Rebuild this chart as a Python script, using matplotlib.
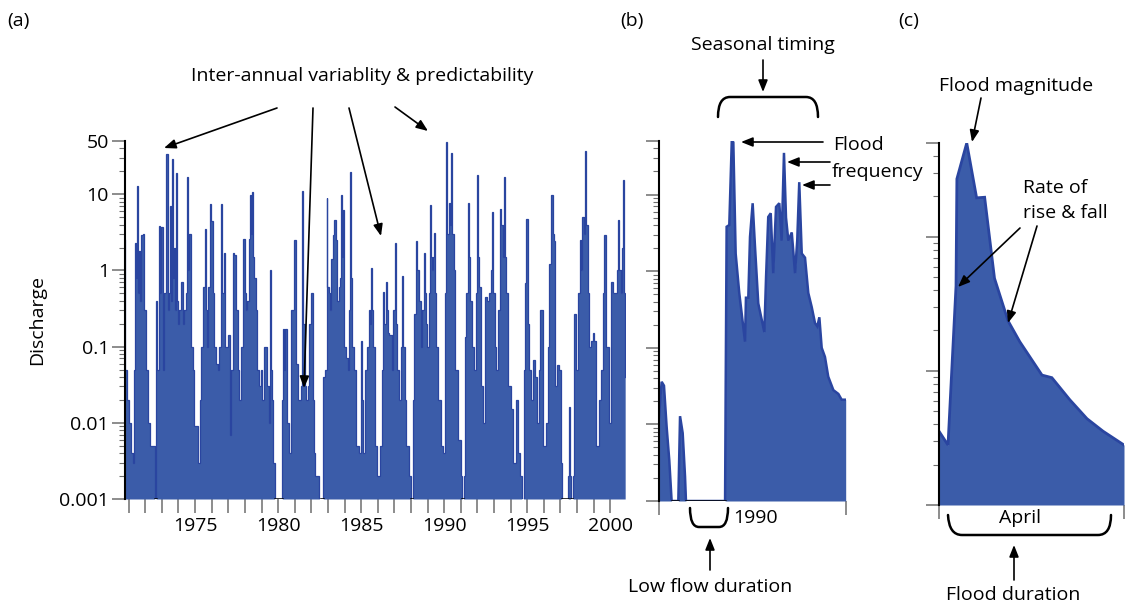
import matplotlib

matplotlib.use("Agg")
import matplotlib.pyplot as plt
import numpy as np
from matplotlib.path import Path
from matplotlib.patches import PathPatch
from matplotlib.ticker import FixedLocator, LogLocator, NullFormatter, FixedFormatter, FuncFormatter

plt.rcParams["font.family"] = ["Open Sans", "DejaVu Sans"]

FILL = "#3b5ca9"
EDGE = "#2a45a0"
TICK = "#6e6e6e"

# (a) long-term daily discharge record (decimal year, discharge; 0 = no flow)
years_a = [
    1970.78, 1970.84, 1970.95, 1971.08, 1971.20, 1971.29, 1971.35, 1971.39, 1971.46, 1971.53,
    1971.58, 1971.65, 1971.72, 1971.79, 1971.89, 1971.99, 1972.09, 1972.19, 1972.39, 1972.55,
    1972.58, 1972.62, 1972.69, 1972.77, 1972.85, 1972.92, 1972.99, 1973.09, 1973.19, 1973.33,
    1973.40, 1973.45, 1973.53, 1973.58, 1973.63, 1973.68, 1973.73, 1973.80, 1973.86, 1973.93,
    1974.00, 1974.10, 1974.20, 1974.30, 1974.40, 1974.48, 1974.54, 1974.60, 1974.66, 1974.80,
    1974.90, 1975.00, 1975.16, 1975.24, 1975.30, 1975.45, 1975.55, 1975.60, 1975.67, 1975.74,
    1975.84, 1975.90, 1976.00, 1976.10, 1976.20, 1976.31, 1976.41, 1976.51, 1976.61, 1976.68,
    1976.75, 1976.91, 1977.05, 1977.15, 1977.22, 1977.31, 1977.41, 1977.51, 1977.61, 1977.71,
    1977.85, 1977.97, 1978.04, 1978.11, 1978.20, 1978.27, 1978.37, 1978.42, 1978.47, 1978.54,
    1978.61, 1978.71, 1978.80, 1978.88, 1979.02, 1979.10, 1979.22, 1979.32, 1979.40, 1979.48,
    1979.56, 1979.62, 1979.68, 1979.76, 1979.82, 1980.22, 1980.28, 1980.32, 1980.40, 1980.48,
    1980.56, 1980.72, 1980.78, 1980.82, 1980.92, 1981.02, 1981.08, 1981.12, 1981.22, 1981.33,
    1981.43, 1981.49, 1981.56, 1981.63, 1981.73, 1981.83, 1981.93, 1982.07, 1982.12, 1982.17,
    1982.33, 1982.45, 1982.53, 1982.56, 1982.70, 1982.73, 1982.90, 1982.93, 1983.00, 1983.09,
    1983.16, 1983.23, 1983.33, 1983.43, 1983.53, 1983.62, 1983.69, 1983.78, 1983.84, 1983.89,
    1983.94, 1984.04, 1984.14, 1984.24, 1984.32, 1984.38, 1984.44, 1984.50, 1984.64, 1984.78,
    1984.94, 1985.00, 1985.04, 1985.10, 1985.18, 1985.34, 1985.42, 1985.48, 1985.56, 1985.64,
    1985.70, 1985.74, 1985.90, 1986.04, 1986.18, 1986.28, 1986.35, 1986.43, 1986.51, 1986.58,
    1986.65, 1986.75, 1986.91, 1986.98, 1987.05, 1987.12, 1987.19, 1987.35, 1987.45, 1987.51,
    1987.58, 1987.65, 1987.79, 1987.95, 1988.02, 1988.08, 1988.15, 1988.25, 1988.35, 1988.43,
    1988.51, 1988.65, 1988.72, 1988.80, 1988.86, 1988.92, 1989.02, 1989.10, 1989.16, 1989.23,
    1989.30, 1989.36, 1989.42, 1989.50, 1989.56, 1989.72, 1989.86, 1990.00, 1990.10, 1990.16,
    1990.23, 1990.30, 1990.38, 1990.46, 1990.53, 1990.60, 1990.76, 1990.92, 1991.06, 1991.10,
    1991.14, 1991.20, 1991.27, 1991.38, 1991.47, 1991.52, 1991.57, 1991.73, 1991.85, 1991.93,
    1991.97, 1992.05, 1992.13, 1992.27, 1992.41, 1992.53, 1992.67, 1992.77, 1992.86, 1992.93,
    1993.00, 1993.07, 1993.21, 1993.30, 1993.37, 1993.51, 1993.57, 1993.63, 1993.70, 1993.78,
    1993.94, 1994.08, 1994.22, 1994.38, 1994.48, 1994.62, 1994.74, 1994.82, 1994.88, 1994.98,
    1995.06, 1995.14, 1995.28, 1995.42, 1995.54, 1995.68, 1995.76, 1995.82, 1995.92, 1996.04,
    1996.18, 1996.28, 1996.35, 1996.49, 1996.56, 1996.63, 1996.75, 1996.85, 1996.99, 1997.06,
    1997.09, 1997.45, 1997.49, 1997.55, 1997.60, 1997.63, 1997.72, 1997.80, 1997.89, 1997.96,
    1998.03, 1998.12, 1998.19, 1998.28, 1998.35, 1998.45, 1998.49, 1998.56, 1998.63, 1998.70,
    1998.75, 1998.90, 1999.00, 1999.10, 1999.24, 1999.40, 1999.50, 1999.60, 1999.70, 1999.75,
    1999.80, 2000.00, 2000.05, 2000.10, 2000.20, 2000.34, 2000.42, 2000.50, 2000.60, 2000.70,
    2000.75, 2000.80, 2000.86, 2000.90,
]
discharge_a = [
    2.5, 0.05, 0.02, 0.01, 0.004, 0.003, 0.05, 2.3, 0.8, 13,
    0.5, 1.8, 0.4, 2.9, 3.0, 0.3, 0.05, 0.01, 0.005, 0.005,
    0, 0, 0.4, 0.05, 3.8, 0.5, 3.7, 0.05, 0.5, 34,
    0.3, 0.5, 7, 0.4, 29, 0.8, 2, 0.3, 19, 0.4,
    0.2, 0.3, 0.7, 0.2, 0.3, 0.5, 17, 1, 3, 0.1,
    0.05, 0.009, 0.009, 0.003, 0.02, 0.1, 0.6, 3.5, 0.3, 0.1,
    0.6, 7.5, 4.5, 0.5, 0.1, 0.06, 0.05, 0.1, 7.4, 0.5,
    1.7, 0.1, 0.14, 0.007, 0.05, 1.7, 1.6, 0.3, 0.05, 0.02,
    0.1, 2.6, 0.5, 0.3, 0.4, 2.6, 9.8, 3, 10.7, 1.5,
    0.8, 0.3, 0.05, 0.03, 0.05, 0.02, 0.1, 0.1, 0.03, 0.01,
    1.0, 0.05, 0.02, 0.003, 0, 0, 0.02, 0.17, 0.05, 0.17,
    0.01, 0.004, 0.05, 0.3, 0.3, 2.5, 0.3, 0.06, 0.02, 0.02,
    0.03, 11, 0.2, 0.03, 0.02, 0.03, 0.2, 0.5, 0.02, 0.004,
    0.002, 0.002, 0.001, 0, 0, 0.04, 0.05, 8.8, 0.6, 0.5,
    0.3, 1.4, 2.9, 4.6, 2.5, 0.4, 0.6, 0.8, 9.8, 1.5,
    6.2, 0.1, 0.07, 0.05, 0.3, 19.8, 0.8, 0.1, 0.05, 0.005,
    0.004, 0.03, 0.12, 0.02, 0.004, 0.05, 0.1, 0.3, 0.2, 1.07,
    0.3, 0.1, 0.005, 0.002, 0.005, 0.05, 0.52, 0.2, 0.71, 0.3,
    0.15, 0.14, 0.05, 0.3, 2.26, 0.2, 0.05, 0.02, 0.1, 0.85,
    0.1, 0.02, 0.005, 0.002, 0, 0, 0.02, 0.27, 2.4, 1,
    0.4, 0.1, 0.3, 1.67, 0.5, 0.2, 0.1, 0.5, 7.2, 1.5,
    1, 1.5, 3.1, 0.5, 0.1, 0.02, 0.005, 0.004, 0.5, 48,
    3, 7.6, 4, 35, 3, 1, 0.05, 0.006, 0.002, 0,
    0, 0.002, 0.135, 0.5, 7.6, 1.5, 0.4, 0.1, 0.05, 0.5,
    17.8, 1.5, 0.6, 0.03, 0.01, 0.45, 0.4, 0.5, 1, 5.9,
    0.5, 0.1, 0.05, 0.3, 6.5, 4, 1.5, 17, 1.5, 0.5,
    0.03, 0.015, 0.003, 0.02, 0.004, 0.002, 0.001, 0.05, 0.68, 4.8,
    0.2, 0.05, 0.02, 0.067, 0.04, 0.01, 0.05, 0.3, 0.3, 0.005,
    0.01, 0.1, 1.2, 9.8, 3, 2.4, 0.03, 0.057, 0.05, 0.003,
    0, 0, 0.002, 0.016, 0.002, 0, 0, 0.002, 0.27, 0.05,
    0.05, 0.5, 2.5, 1, 5, 3, 37, 4, 4, 0.5,
    0.1, 0.12, 0.15, 0.12, 0.005, 0.02, 0.05, 0.5, 2.9, 0.5,
    0.1, 0.01, 0.1, 0.7, 0.5, 0.5, 1, 4.6, 1, 0.5,
    2, 15.3, 0.5, 0.04,
]
year_ticks = list(range(1971, 2001))

# (b) one year around 1990 (months from start of water year)
months_b = [
    0.0, 0.17, 0.32, 0.49, 0.66, 0.81, 1.24, 1.35, 1.52, 1.67,
    1.73, 4.24, 4.28, 4.34, 4.51, 4.67, 4.77, 4.92, 5.15, 5.52,
    5.58, 5.73, 5.84, 6.01, 6.16, 6.37, 6.76, 6.87, 7.01, 7.17,
    7.33, 7.51, 7.72, 7.87, 8.02, 8.15, 8.30, 8.52, 8.73, 8.87,
    9.00, 9.16, 9.37, 9.58, 9.80, 10.01, 10.16, 10.29, 10.44, 10.65,
    10.86, 11.19, 11.51, 11.72, 11.98,
]
discharge_b = [
    0.0125, 0.036, 0.032, 0.0093, 0.0034, 0, 0, 0.0128, 0.0077, 0.0021,
    0, 0, 0.031, 3.8, 4.0, 50, 48, 1.7, 0.52, 0.12,
    0.45, 0.45, 2.8, 7.7, 2.1, 0.38, 0.16, 0.84, 5.1, 5.7,
    0.94, 6.9, 7.7, 2.5, 35, 5.0, 2.5, 3.2, 0.94, 2.5,
    14.5, 1.7, 1.5, 0.52, 0.34, 0.21, 0.19, 0.25, 0.1, 0.076,
    0.042, 0.028, 0.025, 0.021, 0.021,
]

# (c) April flood event (day of month)
days_c = [0.0, 1.46, 2.76, 2.9, 4.5, 6.1, 7.4, 9.0, 11.2, 13.1, 16.7, 18.3, 21.2, 24.0, 26.6, 30.0]
discharge_c = [0.355, 0.28, 4.3, 27, 50, 19.5, 19.7, 4.9, 2.36, 1.65, 0.93, 0.89, 0.61, 0.44, 0.355, 0.28]

W, H = 1125, 606
fig = plt.figure(figsize=(W / 100, H / 100), dpi=100)


def px_axes(x0, y0, x1, y1):
    return fig.add_axes([x0 / W, 1 - y1 / H, (x1 - x0) / W, (y1 - y0) / H])


def draw_series(ax, x, q, floor, top, majors, lw, step=None):
    x = np.asarray(x, dtype=float)
    q = np.asarray(q, dtype=float)
    ax.set_yscale("log")
    ax.set_ylim(floor, top)
    ax.set_xlim(x[0], x[-1])
    shown = np.clip(q, floor, None)
    ds = "steps-mid" if step else "default"
    ax.fill_between(x, floor, shown, color=FILL, lw=0, zorder=2, step=step)
    ax.plot(x, shown, color=EDGE, lw=lw, zorder=3, drawstyle=ds, solid_joinstyle="miter")
    ax.plot(x, np.where(q == 0, floor, np.nan), color="black", lw=1.8, zorder=4)
    for s in ("top", "right", "bottom"):
        ax.spines[s].set_visible(False)
    ax.spines["left"].set_linewidth(1.5)
    ax.spines["left"].set_color("black")
    ax.spines["left"].set_zorder(5)
    ax.yaxis.set_major_locator(FixedLocator(majors))
    ax.yaxis.set_minor_locator(LogLocator(base=10, subs=np.arange(2, 10), numticks=100))
    ax.yaxis.set_minor_formatter(NullFormatter())
    ax.tick_params(axis="y", which="major", length=9.5, width=1.1, color=TICK, labelsize=14, pad=2)
    ax.tick_params(axis="y", which="minor", length=4.5, width=0.8, color=TICK)
    ax.tick_params(axis="x", which="major", length=10, width=1.1, color=TICK, labelsize=14, pad=3)
    ax.tick_params(axis="x", which="minor", length=0)
    ax.patch.set_alpha(0)


# panel (a)
ax_a = px_axes(125, 141, 626, 499)
majors_a = [0.001, 0.01, 0.1, 1, 10, 50]
draw_series(ax_a, years_a, discharge_a, 0.001, 50, majors_a, 0.9, step="mid")
ax_a.set_xlim(years_a[0], 2000.95)
ax_a.yaxis.set_major_formatter(FixedFormatter(["0.001", "0.01", "0.1", "1", "10", "50"]))
ax_a.xaxis.set_major_locator(FixedLocator(year_ticks))
ax_a.xaxis.set_major_formatter(FuncFormatter(lambda v, p: str(int(v)) if int(v) % 5 == 0 else ""))

# panel (b)
ax_b = px_axes(659, 141, 846, 501)
draw_series(ax_b, months_b, discharge_b, 0.001, 50, majors_a, 1.8)
ax_b.set_xlim(0, 12)
ax_b.xaxis.set_major_locator(FixedLocator([0, 12]))
ax_b.tick_params(labelleft=False, labelbottom=False)

# panel (c)
ax_c = px_axes(939, 143, 1124, 505)
draw_series(ax_c, days_c, discharge_c, 0.1, 50, [0.1, 1, 10, 50], 2.0)
ax_c.set_xlim(0, 30)
ax_c.xaxis.set_major_locator(FixedLocator([0, 30]))
ax_c.tick_params(labelleft=False, labelbottom=False)

# annotation layer in pixel coordinates
ov = fig.add_axes([0, 0, 1, 1])
ov.set_xlim(0, W)
ov.set_ylim(H, 0)
ov.axis("off")
ov.patch.set_visible(False)

FS = 14


def label(x, y, s, ha="center", **kw):
    ov.text(x, y, s, ha=ha, va="center", fontsize=kw.pop("fontsize", FS), **kw)


def arrow(tail, tip):
    ov.annotate("", xy=tip, xytext=tail,
                arrowprops=dict(arrowstyle="-|>,head_length=0.7,head_width=0.28",
                                color="black", lw=1.2, shrinkA=0, shrinkB=0))


def bracket(verts, codes):
    ov.add_patch(PathPatch(Path(verts, codes), fill=False, lw=1.8, ec="black",
                           capstyle="round", joinstyle="round"))


M, C, L = Path.MOVETO, Path.CURVE3, Path.LINETO

label(7, 21, "(a)", ha="left")
label(620, 21, "(b)", ha="left")
label(898, 21, "(c)", ha="left")
label(37, 320, "Discharge", rotation=90)

label(362, 76, "Inter-annual variablity & predictability")
arrow((277, 108), (164, 148))
arrow((313, 108), (304, 388))
arrow((349, 108), (381, 236))
arrow((395, 107), (428, 131))

label(763, 45, "Seasonal timing")
arrow((763, 60), (763, 92))
bracket([(718, 117), (718, 97), (730, 97), (806, 97), (818, 97), (818, 117)], [M, C, C, L, C, C])
label(833, 145, "Flood", ha="left")
label(832, 172, "frequency", ha="left")
arrow((823, 142), (741, 142))
arrow((830, 162), (787, 162))
arrow((830, 185), (802, 185))

label(733, 518, "1990", ha="left")
bracket([(690, 508), (690, 527), (699, 527), (719, 527), (728, 527), (728, 508)], [M, C, C, L, C, C])
arrow((710, 570), (710, 538))
label(710, 587, "Low flow duration")

label(1016, 86, "Flood magnitude")
arrow((981, 98), (972, 142))
label(1023, 188, "Rate of", ha="left")
label(1023, 213, "rise & fall", ha="left")
arrow((1020, 228), (958, 287))
arrow((1037, 226), (1008, 323))

label(1020, 518, "April")
bracket([(948, 515), (949, 535), (962, 535), (1098, 535), (1111, 535), (1111, 515)], [M, C, C, L, C, C])
arrow((1014, 580), (1014, 545))
label(1013, 595, "Flood duration")

fig.savefig("out.png", dpi=100)
plt.close(fig)
